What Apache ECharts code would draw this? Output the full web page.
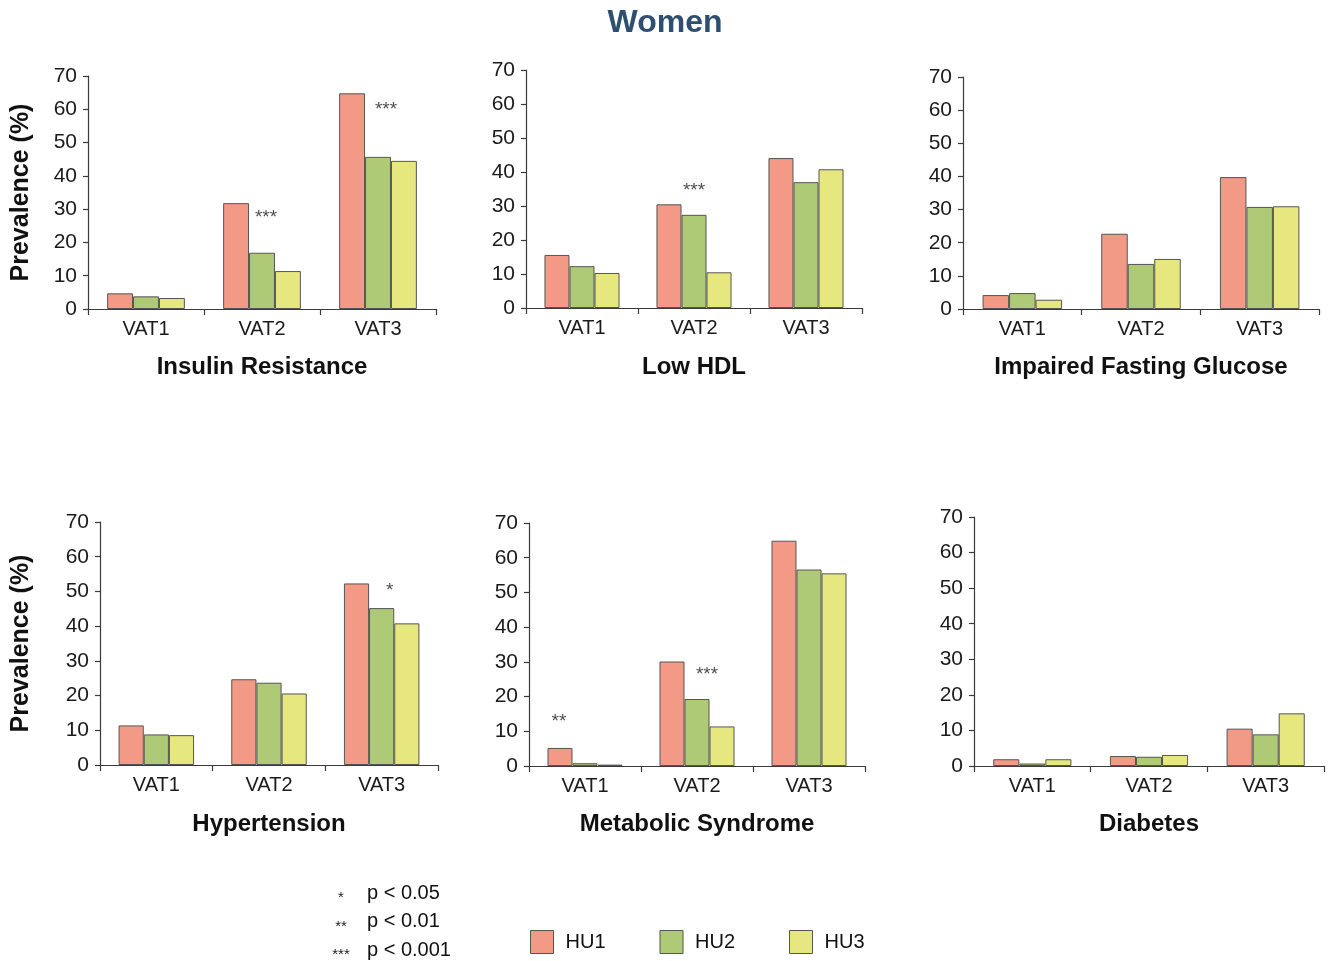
<!DOCTYPE html>
<html>
<head>
<meta charset="utf-8">
<script src="https://cdn.jsdelivr.net/npm/echarts@6/dist/echarts.min.js"></script>
<style>
html,body{margin:0;padding:0;background:#fff;}
#chart{width:1333px;height:961px;}
</style>
</head>
<body>
<div id="chart"></div>
<script>
// ---- data ----
const categories = ['VAT1', 'VAT2', 'VAT3'];
const groups = ['HU1', 'HU2', 'HU3'];
const panelTitles = ['Insulin Resistance', 'Low HDL', 'Impaired Fasting Glucose',
                     'Hypertension', 'Metabolic Syndrome', 'Diabetes'];
const yTicks = [0, 10, 20, 30, 40, 50, 60, 70];

// values per panel: [HU1, HU2, HU3] each over VAT1..VAT3
const insulinHU1 = [4.7, 31.8, 64.8];
const insulinHU2 = [3.8, 16.9, 45.7];
const insulinHU3 = [3.3, 11.4, 44.5];

const hdlHU1 = [15.6, 30.5, 44.1];
const hdlHU2 = [12.3, 27.4, 37.0];
const hdlHU3 = [10.3, 10.5, 40.8];

const ifgHU1 = [4.2, 22.7, 39.8];
const ifgHU2 = [4.8, 13.6, 30.8];
const ifgHU3 = [2.8, 15.1, 31.0];

const htnHU1 = [11.4, 24.7, 52.3];
const htnHU2 = [8.8, 23.7, 45.2];
const htnHU3 = [8.6, 20.6, 40.8];

const metsHU1 = [5.2, 30.1, 64.9];
const metsHU2 = [0.8, 19.3, 56.6];
const metsHU3 = [0.4, 11.4, 55.5];

const diabHU1 = [1.9, 2.8, 10.5];
const diabHU2 = [0.7, 2.6, 8.9];
const diabHU3 = [1.9, 3.1, 14.8];

const panelData = [
  [insulinHU1, insulinHU2, insulinHU3],
  [hdlHU1, hdlHU2, hdlHU3],
  [ifgHU1, ifgHU2, ifgHU3],
  [htnHU1, htnHU2, htnHU3],
  [metsHU1, metsHU2, metsHU3],
  [diabHU1, diabHU2, diabHU3]
];

// significance annotations: panel index, category, value height, marker
const annotPanel = [0, 0, 1, 3, 4, 4];
const annotCat   = ['VAT2', 'VAT3', 'VAT2', 'VAT3', 'VAT1', 'VAT2'];
const annotValue = [28.5, 61.0, 35.7, 51.3, 13.8, 27.5];
const annotText  = ['***', '***', '***', '*', '**', '***'];

const pLegendStars = ['*', '**', '***'];
const pLegendText  = ['p < 0.05', 'p < 0.01', 'p < 0.001'];

// ---- layout / style ----
const FONT = '"Liberation Sans", Arial, Helvetica, sans-serif';
const colors = ['#f29a86', '#aeca76', '#e6e87f'];
const grids = [
  {left: 88,  top: 76,  width: 348, height: 233},
  {left: 526, top: 70,  width: 336, height: 238},
  {left: 963, top: 77,  width: 356, height: 232},
  {left: 100, top: 522, width: 338, height: 243},
  {left: 529, top: 523, width: 336, height: 243},
  {left: 974, top: 517, width: 350, height: 249}
];
const annotOffsetX = [4, 8, 0, 8, -26, 10];
const axisColor = '#3a3a3a';

const xAxes = [], yAxes = [], series = [], graphics = [];
grids.forEach((g, i) => {
  xAxes.push({
    type: 'category', gridIndex: i, data: categories,
    axisLine: {show: true, lineStyle: {color: axisColor, width: 1.2}},
    axisTick: {show: true, length: 6, lineStyle: {color: axisColor, width: 1.2}},
    axisLabel: {fontFamily: FONT, fontSize: 20, color: '#1a1a1a', margin: 10},
    splitLine: {show: false}
  });
  yAxes.push({
    type: 'value', gridIndex: i, min: 0, max: 70, interval: 10,
    axisLine: {show: true, lineStyle: {color: axisColor, width: 1.2}},
    axisTick: {show: true, length: 5, lineStyle: {color: axisColor, width: 1.2}},
    axisLabel: {fontFamily: FONT, fontSize: 21, color: '#1a1a1a', margin: 11,
      formatter: v => yTicks.includes(v) ? String(v) : ''},
    splitLine: {show: false}
  });
  groups.forEach((name, k) => {
    series.push({
      type: 'bar', name: name, xAxisIndex: i, yAxisIndex: i,
      data: panelData[i][k],
      barGap: '0%', barCategoryGap: '33%',
      itemStyle: {color: colors[k], borderColor: '#555', borderWidth: 1},
      emphasis: {disabled: true},
      animation: false
    });
  });
  // panel title
  graphics.push({
    type: 'text', x: g.left + g.width / 2, y: i < 3 ? 367 : 824,
    style: {text: panelTitles[i], font: 'bold 24px ' + FONT, fill: '#111',
            textAlign: 'center', textVerticalAlign: 'middle'}
  });
});

// y axis name on left column
[0, 3].forEach(i => {
  const g = grids[i];
  graphics.push({
    type: 'text', x: 21, y: g.top + g.height / 2, rotation: Math.PI / 2,
    style: {text: 'Prevalence (%)', font: 'bold 25px ' + FONT, fill: '#111',
            textAlign: 'center', textVerticalAlign: 'middle'}
  });
});

// annotations as scatter labels
annotPanel.forEach((p, j) => {
  series.push({
    type: 'scatter', xAxisIndex: p, yAxisIndex: p, symbolSize: 0,
    data: [[annotCat[j], annotValue[j]]],
    label: {show: true, position: 'inside', formatter: annotText[j],
            fontFamily: FONT, fontSize: 19, color: '#222', offset: [annotOffsetX[j], 4]},
    silent: true, animation: false
  });
});

// title
graphics.push({
  type: 'text', x: 665, y: 23,
  style: {text: 'Women', font: 'bold 32px ' + FONT, fill: '#2e4f70',
          textAlign: 'center', textVerticalAlign: 'middle'}
});

// p-value legend
pLegendText.forEach((t, j) => {
  const y = 893 + j * 28.5;
  graphics.push({
    type: 'text', x: 341, y: y + 5,
    style: {text: pLegendStars[j], font: '15px ' + FONT, fill: '#222',
            textAlign: 'center', textVerticalAlign: 'middle'}
  });
  graphics.push({
    type: 'text', x: 367, y: y,
    style: {text: t, font: '20px ' + FONT, fill: '#111',
            textAlign: 'left', textVerticalAlign: 'middle'}
  });
});

const option = {
  backgroundColor: '#fff',
  animation: false,
  grid: grids.map(g => Object.assign({containLabel: false}, g)),
  xAxis: xAxes,
  yAxis: yAxes,
  legend: {
    data: groups, left: 530, top: 930, padding: 0,
    itemWidth: 23, itemHeight: 23, itemGap: 54,
    icon: 'rect',
    itemStyle: {borderColor: '#555', borderWidth: 1},
    textStyle: {fontFamily: FONT, fontSize: 20, color: '#111', padding: [0, 0, 0, 7]},
    selectedMode: false
  },
  series: series,
  graphic: graphics
};

const chart = echarts.init(document.getElementById('chart'), null, {renderer: 'canvas'});
chart.setOption(option);
</script>
</body>
</html>
